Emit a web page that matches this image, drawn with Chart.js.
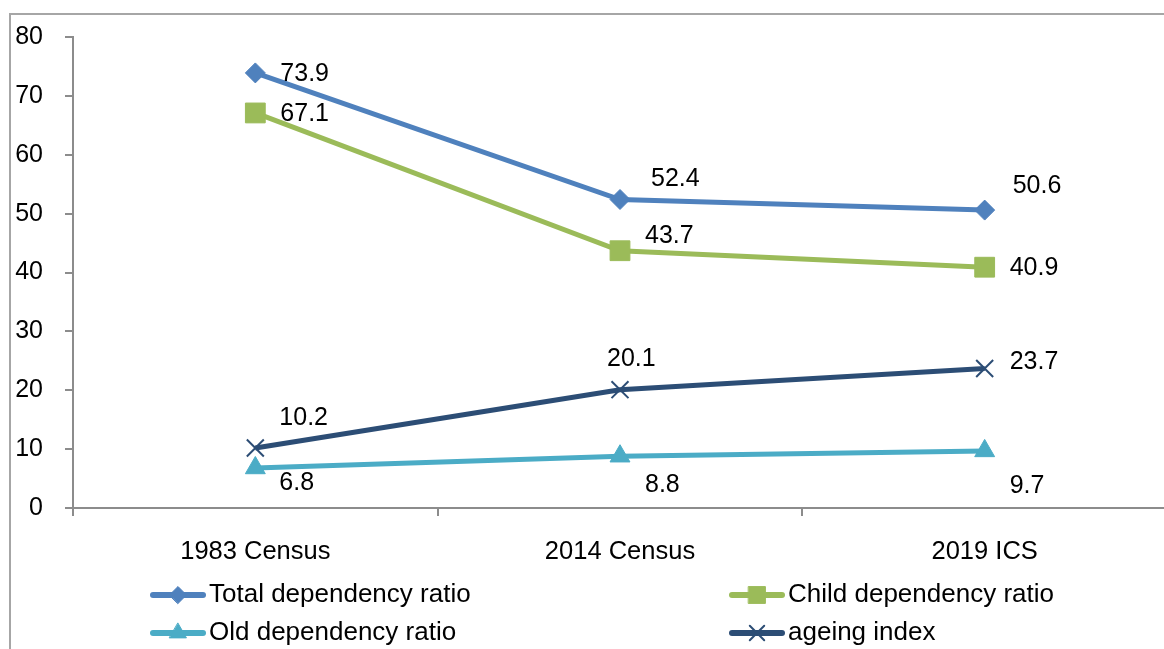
<!DOCTYPE html>
<html>
<head>
<meta charset="utf-8">
<script src="https://cdn.jsdelivr.net/npm/chart.js@4.4.0/dist/chart.umd.min.js"></script>
<style>
    html, body { margin: 0; padding: 0; overflow: hidden; background: #fff; }
    #wrap { position: absolute; left: 0; top: 0; width: 1182px; height: 649px; }
</style>
</head>
<body>
<div id="wrap"><canvas id="ratioChart" width="1182" height="649"></canvas></div>
<script>
var categories = ['1983 Census', '2014 Census', '2019 ICS'];
var totalRatio = [73.9, 52.4, 50.6];
var childRatio = [67.1, 43.7, 40.9];
var oldRatio = [6.8, 8.8, 9.7];
var ageingIndex = [10.2, 20.1, 23.7];
var yTicks = [0, 10, 20, 30, 40, 50, 60, 70, 80];

var FONT = "'Liberation Sans', Arial, sans-serif";
var AXIS_GREY = '#8c8c8c';

// where each value label sits, relative to its point (left edge, middle)
var labelOffsets = [
    [[25, 1], [31, -20], [28, -24]],
    [[25, 1], [25, -15], [25, 1]],
    [[24, 15], [25, 29], [25, 35]],
    [[24, -30], [-13, -31], [25, -6]]
];

var frame = {
    id: 'frame',
    beforeDraw: function(chart) {
        var ctx = chart.ctx;
        ctx.save();
        ctx.strokeStyle = '#a6a6a6';
        ctx.lineWidth = 2;
        ctx.beginPath();
        ctx.moveTo(10, 700);
        ctx.lineTo(10, 14);
        ctx.lineTo(1200, 14);
        ctx.stroke();
        ctx.restore();
    }
};

var valueLabels = {
    id: 'valueLabels',
    afterDatasetsDraw: function(chart) {
        var ctx = chart.ctx;
        ctx.save();
        ctx.font = '25px ' + FONT;
        ctx.fillStyle = '#000';
        ctx.textAlign = 'left';
        ctx.textBaseline = 'middle';
        chart.data.datasets.forEach(function(ds, i) {
            chart.getDatasetMeta(i).data.forEach(function(pt, j) {
                var off = labelOffsets[i][j];
                ctx.fillText(ds.data[j].toFixed(1), pt.x + off[0], pt.y + off[1]);
            });
        });
        ctx.restore();
    }
};

var gridLegend = {
    id: 'gridLegend',
    afterDraw: function(chart) {
        var ctx = chart.ctx;
        var colX = [150, 729];
        var rowY = [595, 633];
        ctx.save();
        ctx.font = '26px ' + FONT;
        ctx.textAlign = 'left';
        ctx.textBaseline = 'middle';
        chart.data.datasets.forEach(function(ds, i) {
            var x = colX[i % 2];
            var y = rowY[Math.floor(i / 2)];
            ctx.strokeStyle = ds.borderColor;
            ctx.lineWidth = 6;
            ctx.lineCap = 'round';
            ctx.beginPath();
            ctx.moveTo(x + 3, y);
            ctx.lineTo(x + 53, y);
            ctx.stroke();
            ctx.fillStyle = ds.pointBackgroundColor;
            ctx.strokeStyle = ds.pointBorderColor;
            ctx.lineWidth = ds.pointBorderWidth;
            Chart.helpers.drawPoint(ctx, {
                pointStyle: ds.pointStyle,
                radius: ds.pointRadius * 0.85,
                rotation: 0,
                borderWidth: ds.pointBorderWidth
            }, x + 28, y);
            ctx.fillStyle = '#000';
            ctx.fillText(ds.label, x + 59, y);
        });
        ctx.restore();
    }
};

function series(label, data, color, style, radius, borderW) {
    return {
        label: label,
        data: data,
        borderColor: color,
        backgroundColor: color,
        borderWidth: 5,
        tension: 0,
        pointStyle: style,
        pointRadius: radius,
        pointHoverRadius: radius,
        pointBackgroundColor: color,
        pointBorderColor: color,
        pointBorderWidth: borderW
    };
}

var ratioChart = new Chart(document.getElementById('ratioChart').getContext('2d'), {
    type: 'line',
    data: {
        labels: categories,
        datasets: [
            series('Total dependency ratio', totalRatio, '#4f81bd', 'rectRot', 10, 1),
            series('Child dependency ratio', childRatio, '#9bbb59', 'rect', 14, 1),
            series('Old dependency ratio', oldRatio, '#4bacc6', 'triangle', 11.5, 1),
            series('ageing index', ageingIndex, '#2c4d75', 'crossRot', 12, 2)
        ]
    },
    options: {
        responsive: false,
        animation: false,
        layout: { padding: { left: 0, right: 4, top: 35, bottom: 0 } },
        plugins: {
            legend: { display: false },
            tooltip: { enabled: false }
        },
        scales: {
            x: {
                offset: true,
                grid: { offset: true, drawOnChartArea: false, tickLength: 8, color: AXIS_GREY, lineWidth: 2 },
                border: { color: AXIS_GREY, width: 2 },
                ticks: { color: '#000', padding: 21, font: { family: FONT, size: 25.5 }, maxRotation: 0 },
                afterFit: function(scale) { scale.height = 141; }
            },
            y: {
                min: 0,
                max: 80,
                afterBuildTicks: function(scale) {
                    scale.ticks = yTicks.map(function(v) { return { value: v }; });
                },
                grid: { drawOnChartArea: false, tickLength: 8, color: AXIS_GREY, lineWidth: 2 },
                border: { color: AXIS_GREY, width: 2 },
                ticks: { color: '#000', padding: 22, font: { family: FONT, size: 25 } },
                afterFit: function(scale) { scale.width = 73; }
            }
        }
    },
    plugins: [frame, valueLabels, gridLegend]
});
</script>
</body>
</html>
